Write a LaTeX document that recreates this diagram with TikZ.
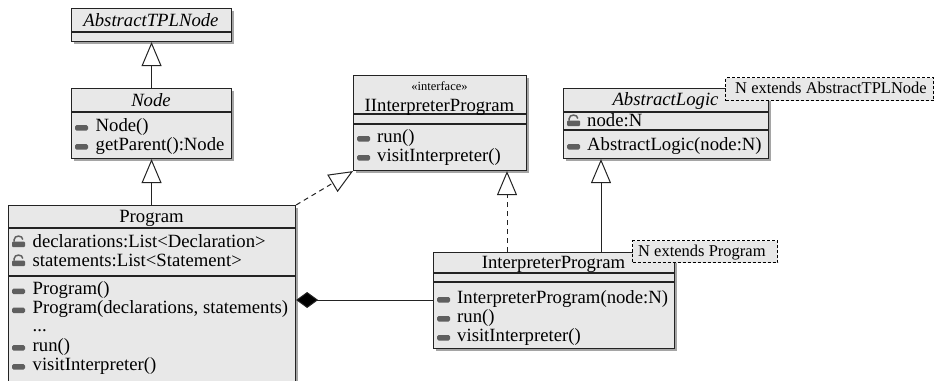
\documentclass[tikz,border=0pt]{standalone}
\usepackage{fontspec}
\setmainfont{Liberation Serif}
\usetikzlibrary{arrows.meta,shadows}

\definecolor{classfill}{RGB}{232,232,232}
\definecolor{shadowgray}{RGB}{165,165,165}
\definecolor{iconfill}{RGB}{95,95,95}
\definecolor{edgecol}{RGB}{35,35,35}

\newcommand\umlfont{\fontsize{18.7}{19}\selectfont}
\newcommand\umlnotefont{\fontsize{16.5}{17}\selectfont}
\newcommand\umlstereofont{\fontsize{12.5}{13}\selectfont}

\tikzset{
  classbox/.style={draw=edgecol, line width=1.1pt, fill=classfill, anchor=north west,
    inner sep=0pt,
    drop shadow={shadow xshift=2.5pt, shadow yshift=-2.5pt, fill=shadowgray, opacity=1}},
  sepline/.style={draw=edgecol, line width=1.1pt},
  classname/.style={anchor=base, inner sep=0pt, font=\umlfont},
  stereo/.style={anchor=base, inner sep=0pt, font=\umlstereofont},
  member/.style={anchor=base west, inner sep=0pt, font=\umlfont},
  notebox/.style={draw=black, line width=1.3pt, dash pattern=on 3pt off 2pt,
    fill=classfill, anchor=north west, inner sep=0pt},
  notetext/.style={anchor=base west, inner sep=0pt, font=\umlnotefont},
  gen/.style={draw=edgecol, line width=1pt,
    -{Triangle[open, length=24pt, width=20pt, fill=white, line width=1pt]}},
  real/.style={gen, dash pattern=on 5pt off 4pt},
  comp/.style={draw=edgecol, line width=1pt,
    {Diamond[length=22pt, width=16pt, fill=black]}-},
  pics/opicon/.style={code={
    \fill[iconfill, rounded corners=1.5pt] (0,-0.5) rectangle (13,-6);}},
  pics/lockicon/.style={code={
    \fill[iconfill, rounded corners=1pt] (0,0) rectangle (13,-5.5);
    \draw[iconfill, line width=1.5pt] (2.2,-5.5) -- (2.2,-7.5)
      .. controls (2.2,-12) and (10.8,-12) .. (10.8,-7.5);}},
}

\begin{document}
\begin{tikzpicture}[x=1pt, y=-1pt]
  \useasboundingbox (0,0) rectangle (936,380);

  % ---- AbstractTPLNode ----
  \node[classbox, minimum width=160pt, minimum height=33pt] (tpl) at (71,8) {};
  \draw[sepline] ([yshift=-24pt]tpl.north west) -- ([yshift=-24pt]tpl.north east);
  \node[classname, font=\umlfont\itshape] (tplname) at (151,26) {AbstractTPLNode};

  % ---- Node ----
  \node[classbox, minimum width=160pt, minimum height=70pt] (nd) at (71,88) {};
  \draw[sepline] ([yshift=-24pt]nd.north west) -- ([yshift=-24pt]nd.north east);
  \node[classname, font=\umlfont\itshape] (ndname) at (151,106) {Node};
  \pic (ndi1) at (75,131) {opicon};
  \node[member] (ndm1) at (95.5,131) {Node()};
  \pic (ndi2) at (75,150) {opicon};
  \node[member] (ndm2) at (95.5,150) {getParent():Node};

  % ---- Program ----
  \node[classbox, minimum width=287pt, minimum height=190pt] (prog) at (8,205) {};
  \draw[sepline] ([yshift=-23pt]prog.north west) -- ([yshift=-23pt]prog.north east);
  \draw[sepline] ([yshift=-71pt]prog.north west) -- ([yshift=-71pt]prog.north east);
  \node[classname] (progname) at (151.5,222.5) {Program};
  \pic (pa1) at (12,247) {lockicon};
  \node[member] (progf1) at (32.5,247) {declarations:List<Declaration>};
  \pic (pa2) at (12,266) {lockicon};
  \node[member] (progf2) at (32.5,266) {statements:List<Statement>};
  \pic (pm1) at (12,294.5) {opicon};
  \node[member] (progm1) at (32.5,294.5) {Program()};
  \pic (pm2) at (12,313.5) {opicon};
  \node[member] (progm2) at (32.5,313.5) {Program(declarations, statements)};
  \node[member] (progdots) at (32.5,331) {...};
  \pic (pm3) at (12,351) {opicon};
  \node[member] (progm3) at (32.5,351) {run()};
  \pic (pm4) at (12,370) {opicon};
  \node[member] (progm4) at (32.5,370) {visitInterpreter()};

  % ---- IInterpreterProgram ----
  \node[classbox, minimum width=173pt, minimum height=95pt] (iip) at (353,75) {};
  \draw[sepline] ([yshift=-39pt]iip.north west) -- ([yshift=-39pt]iip.north east);
  \draw[sepline] ([yshift=-49pt]iip.north west) -- ([yshift=-49pt]iip.north east);
  \node[stereo] (iipst) at (439.5,90) {«interface»};
  \node[classname] (iipname) at (439.5,111) {IInterpreterProgram};
  \pic (ii1) at (357,142) {opicon};
  \node[member] (iipm1) at (377,142) {run()};
  \pic (ii2) at (357,161) {opicon};
  \node[member] (iipm2) at (377,161) {visitInterpreter()};

  % ---- AbstractLogic ----
  \node[classbox, minimum width=205pt, minimum height=70pt] (al) at (563,88) {};
  \draw[sepline] ([yshift=-24pt]al.north west) -- ([yshift=-24pt]al.north east);
  \draw[sepline] ([yshift=-42pt]al.north west) -- ([yshift=-42pt]al.north east);
  \node[classname, font=\umlfont\itshape] (alname) at (665.5,105.5) {AbstractLogic};
  \pic (ala1) at (567,126) {lockicon};
  \node[member] (alf1) at (587,126) {node:N};
  \pic (alm1) at (567,150) {opicon};
  \node[member] (alm1t) at (587,150) {AbstractLogic(node:N)};

  % ---- InterpreterProgram ----
  \node[classbox, minimum width=241pt, minimum height=96pt] (ip) at (433,252) {};
  \draw[sepline] ([yshift=-21pt]ip.north west) -- ([yshift=-21pt]ip.north east);
  \draw[sepline] ([yshift=-30pt]ip.north west) -- ([yshift=-30pt]ip.north east);
  \node[classname] (ipname) at (553.5,268.5) {InterpreterProgram};
  \pic (ipi1) at (437,303) {opicon};
  \node[member] (ipm1) at (457,303) {InterpreterProgram(node:N)};
  \pic (ipi2) at (437,322) {opicon};
  \node[member] (ipm2) at (457,322) {run()};
  \pic (ipi3) at (437,341) {opicon};
  \node[member] (ipm3) at (457,341) {visitInterpreter()};

  % ---- template parameter notes ----
  \node[notebox, minimum width=208pt, minimum height=23pt] (notea) at (725,77) {};
  \node[notetext] (noteatext) at (735,93.6) {N extends AbstractTPLNode};
  \node[notebox, minimum width=145pt, minimum height=22pt] (noteb) at (632,240) {};
  \node[notetext] (notebtext) at (638,256.5) {N extends Program};

  % ---- relations ----
  \draw[gen] (nd.north) -- (tpl.south);
  \draw[gen] (prog.north -| nd.south) -- (nd.south);
  \draw[real] (prog.north east) -- (iip.south west);
  \draw[real] ([xshift=74pt]ip.north west) -- ([xshift=74pt]ip.north west |- iip.south);
  \draw[gen] ([xshift=168pt]ip.north west) -- ([xshift=168pt]ip.north west |- al.south);
  \draw[comp] ([yshift=-95pt]prog.north east) -- ([yshift=-95pt]prog.north east -| ip.west);
\end{tikzpicture}
\end{document}
